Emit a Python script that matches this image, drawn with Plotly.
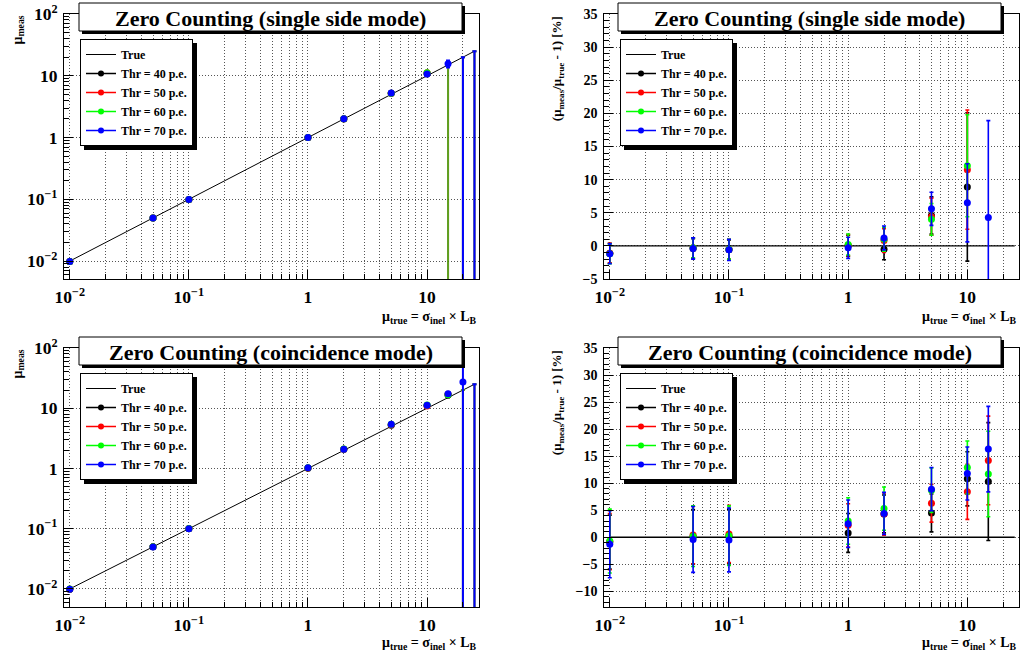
import plotly.graph_objects as go

# ---------------- data ----------------
x_true = [0.01, 25]                       # range of the "True" reference line
x_pts = [0.01, 0.05, 0.1, 1, 2, 5, 10, 15]
series_names = ["Thr = 40 p.e.", "Thr = 50 p.e.", "Thr = 60 p.e.", "Thr = 70 p.e."]
colors = ["#000000", "#ff0000", "#00ff00", "#0000ff"]

# single side mode: relative deviation (mu_meas/mu_true - 1) [%]
single_40 = [-1.1, -0.4, -0.6, 0.0, -0.5, 4.6, 8.9, None]
single_50 = [-1.1, -0.3, -0.5, 0.1, 0.8, 4.4, 11.5, None]
single_60 = [-1.2, -0.3, -0.5, 0.2, 1.0, 4.0, 12.1, None]
single_70 = [-1.2, -0.4, -0.6, -0.3, 1.2, 5.6, 6.5, 4.3]
single_err_40 = [1.5, 1.5, 1.5, 1.6, 1.6, 2.8, 11.2, None]
single_err_50 = [1.5, 1.5, 1.5, 1.6, 1.8, 2.8, 9.0, None]
single_err_60 = [1.5, 1.5, 1.5, 1.6, 1.8, 2.4, 7.7, None]
single_err_70 = [1.5, 1.6, 1.6, 1.6, 1.8, 2.5, 5.9, 14.6]
# points where the single side measurement saturates (no measurement)
single_sat_40 = [15, 20, 25]
single_sat_50 = [15, 20, 25]
single_sat_60 = [15, 20, 25]
single_sat_70 = [20, 25]

# coincidence mode: relative deviation [%]
coinc_40 = [-0.9, 0.1, 0.2, 0.8, 4.3, 4.5, 10.8, 10.3]
coinc_50 = [-0.8, 0.4, 0.6, 2.2, 4.3, 6.3, 8.4, 14.2]
coinc_60 = [-0.7, 0.2, 0.3, 3.0, 5.3, 8.7, 12.9, 11.7]
coinc_70 = [-1.3, -0.4, -0.5, 2.5, 4.4, 8.9, 11.8, 16.3]
coinc_err_40 = [5.0, 5.0, 5.0, 3.6, 3.5, 3.5, 5.0, 10.9]
coinc_err_50 = [5.2, 5.3, 5.3, 4.0, 3.9, 3.5, 5.1, 8.2]
coinc_err_60 = [5.9, 5.6, 5.5, 4.3, 4.0, 4.1, 4.9, 7.9]
coinc_err_70 = [6.2, 6.1, 5.9, 4.4, 3.9, 4.0, 4.9, 7.9]
coinc_sat_40 = [20, 25]
coinc_sat_50 = [20, 25]
coinc_sat_60 = [20, 25]
coinc_sat_70 = [25]
# extra Thr = 70 p.e. coincidence point at mu_true = 20 (only on the absolute plot)
coinc_extra_x = [20]
coinc_extra_pct = [36.5]
coinc_extra_err = [2000.0]

single_pct = [single_40, single_50, single_60, single_70]
single_err = [single_err_40, single_err_50, single_err_60, single_err_70]
single_sat = [single_sat_40, single_sat_50, single_sat_60, single_sat_70]
coinc_pct = [coinc_40, coinc_50, coinc_60, coinc_70]
coinc_err = [coinc_err_40, coinc_err_50, coinc_err_60, coinc_err_70]
coinc_sat = [coinc_sat_40, coinc_sat_50, coinc_sat_60, coinc_sat_70]

# ---------------- layout helpers ----------------
W, H = 1022, 657
SERIF = "Liberation Serif"


def px(xp):
    return xp / W


def py(yp):
    return 1 - yp / H


sat_colors = ["rgba(0,0,0,0.5)", "rgba(255,0,0,0.5)", "rgba(0,255,0,0.5)", "#0000ff"]

fig = go.Figure()


def to_abs(pcts, errs):
    ys, es = [], []
    for xv, p, e in zip(x_pts, pcts, errs):
        if p is None:
            ys.append(None)
            es.append(None)
        else:
            ys.append(xv * (1 + p / 100.0))
            es.append(xv * e / 100.0)
    return ys, es


def add_panel(ax, leg, pcts, errs, sats, absolute, extra=None):
    xa, ya = "x" + ax, "y" + ax
    # True line
    if absolute:
        fig.add_trace(go.Scatter(x=x_true, y=x_true, mode="lines", line=dict(color="black", width=1),
                                 xaxis=xa, yaxis=ya, showlegend=False, hoverinfo="skip"))
    else:
        fig.add_trace(go.Scatter(x=x_true, y=[0 for _ in x_true], mode="lines",
                                 line=dict(color="black", width=1.3),
                                 xaxis=xa, yaxis=ya, showlegend=False, hoverinfo="skip"))
    # saturated measurements (absolute plots only)
    if absolute:
        for i in range(4):
            s = sats[i]
            fig.add_trace(go.Scatter(
                x=s, y=s, mode="markers", marker=dict(opacity=0, color=colors[i]),
                error_y=dict(type="data", array=[0 for _ in s], arrayminus=[v * 1000 for v in s],
                             color=sat_colors[i], thickness=2, width=2),
                xaxis=xa, yaxis=ya, showlegend=False, hoverinfo="skip"))
    # measured points
    for i in range(4):
        if absolute:
            ys, es = to_abs(pcts[i], errs[i])
        else:
            ys, es = pcts[i], errs[i]
        fig.add_trace(go.Scatter(
            x=x_pts, y=ys, mode="markers", marker=dict(color=colors[i], size=7),
            error_y=dict(type="data", array=es, color=colors[i], thickness=1.6, width=2),
            xaxis=xa, yaxis=ya, showlegend=False, name=series_names[i]))
    if absolute and extra is not None:
        ex, ep, ee = extra
        ey = [xv * (1 + p / 100.0) for xv, p in zip(ex, ep)]
        eerr = [xv * e / 100.0 for xv, e in zip(ex, ee)]
        fig.add_trace(go.Scatter(
            x=ex, y=ey, mode="markers", marker=dict(color=colors[3], size=7),
            error_y=dict(type="data", array=eerr, color=colors[3], thickness=2, width=2),
            xaxis=xa, yaxis=ya, showlegend=False, name=series_names[3]))
    # legend entries
    fig.add_trace(go.Scatter(x=[None], y=[None], mode="lines", line=dict(color="black", width=1),
                             name="True", legend=leg, xaxis=xa, yaxis=ya))
    for i in range(4):
        fig.add_trace(go.Scatter(x=[None], y=[None], mode="lines+markers",
                                 line=dict(color=colors[i], width=1.5),
                                 marker=dict(color=colors[i], size=6),
                                 name=series_names[i], legend=leg, xaxis=xa, yaxis=ya))


add_panel("", "legend", single_pct, single_err, single_sat, True)
add_panel("2", "legend2", single_pct, single_err, single_sat, False)
add_panel("3", "legend3", coinc_pct, coinc_err, coinc_sat, True,
          extra=(coinc_extra_x, coinc_extra_pct, coinc_extra_err))
add_panel("4", "legend4", coinc_pct, coinc_err, coinc_sat, False)

tickfont = dict(family=SERIF, size=14, color="black", weight="bold")
GRIDC = "#555555"
grid = dict(showgrid=True, gridcolor=GRIDC, griddash="1px,2px", gridwidth=1)

xcommon = dict(type="log", range=[-2.046, 1.436], dtick=1, exponentformat="power",
               showline=True, linecolor="black", linewidth=1, mirror=True,
               ticks="inside", ticklen=9, tickcolor="black", tickfont=tickfont,
               zeroline=False, ticklabelstandoff=3, automargin=False,
               minor=dict(dtick="D1", ticks="inside", ticklen=5, tickcolor="black",
                          showgrid=True, gridcolor=GRIDC, griddash="1px,2px", gridwidth=1),
               **grid)
ylog = dict(type="log", dtick=1, exponentformat="power",
            showline=True, linecolor="black", linewidth=1, mirror=True,
            ticks="inside", ticklen=9, tickcolor="black", tickfont=tickfont, zeroline=False,
            ticklabelstandoff=3, automargin=False,
            minor=dict(dtick="D1", ticks="inside", ticklen=5, tickcolor="black", showgrid=False),
            **grid)
ylin = dict(dtick=5, tick0=0, showline=True, linecolor="black", linewidth=1, mirror=True,
            ticks="inside", ticklen=9, tickcolor="black", tickfont=tickfont, zeroline=False,
            ticklabelstandoff=3, automargin=False,
            minor=dict(dtick=1, ticks="inside", ticklen=5, tickcolor="black", showgrid=False),
            **grid)

left_dom = [px(64.3), px(479)]
right_dom = [px(604.3), px(1019.3)]
top_dom = [py(279), py(14)]
bot_dom = [py(607), py(348)]

legend_common = dict(bgcolor="white", bordercolor="black", borderwidth=1,
                     font=dict(family=SERIF, size=12, color="black", weight="bold"),
                     xanchor="left", yanchor="top", tracegroupgap=0, itemwidth=30)

fig.update_layout(
    template="none",
    width=W, height=H, margin=dict(l=0, r=0, t=0, b=0, autoexpand=False),
    paper_bgcolor="white", plot_bgcolor="white",
    xaxis=dict(domain=left_dom, anchor="y", **xcommon),
    yaxis=dict(domain=top_dom, anchor="x", range=[-2.29, 2.0], **ylog),
    xaxis2=dict(domain=right_dom, anchor="y2", **xcommon),
    yaxis2=dict(domain=top_dom, anchor="x2", range=[-5, 35], **ylin),
    xaxis3=dict(domain=left_dom, anchor="y3", **xcommon),
    yaxis3=dict(domain=bot_dom, anchor="x3", range=[-2.3, 2.0], **ylog),
    xaxis4=dict(domain=right_dom, anchor="y4", **xcommon),
    yaxis4=dict(domain=bot_dom, anchor="x4", range=[-12.9, 35], **ylin),
    legend=dict(x=px(80), y=py(39), **legend_common),
    legend2=dict(x=px(620), y=py(39), **legend_common),
    legend3=dict(x=px(80), y=py(373), **legend_common),
    legend4=dict(x=px(620), y=py(373), **legend_common),
    showlegend=True,
)

shapes = []
annotations = []

# title boxes
titles = [("Zero Counting (single side mode)", 79, 462, 3, 31),
          ("Zero Counting (single side mode)", 618, 1001, 3, 31),
          ("Zero Counting (coincidence mode)", 79, 462, 337, 365),
          ("Zero Counting (coincidence mode)", 618, 1001, 337, 365)]
for text, x0, x1, y0, y1 in titles:
    shapes.append(dict(type="rect", xref="paper", yref="paper", layer="above",
                       x0=px(x0 + 3), x1=px(x1 + 3), y0=py(y1 + 3), y1=py(y0 + 3),
                       fillcolor="black", line=dict(width=0)))
    shapes.append(dict(type="rect", xref="paper", yref="paper", layer="above",
                       x0=px(x0), x1=px(x1), y0=py(y1), y1=py(y0),
                       fillcolor="white", line=dict(color="black", width=1)))
    annotations.append(dict(text=text, xref="paper", yref="paper", x=px((x0 + x1) / 2),
                            y=py((y0 + y1) / 2 + 1), xanchor="center", yanchor="middle",
                            showarrow=False,
                            font=dict(family=SERIF, size=22, color="black", weight="bold")))

# legend shadows
LW, LH = 113, 107
for lx, ly in [(80, 39), (620, 39), (80, 373), (620, 373)]:
    shapes.append(dict(type="rect", xref="paper", yref="paper", layer="above",
                       x0=px(lx + 4), x1=px(lx + LW + 4), y0=py(ly + LH + 4), y1=py(ly + 4),
                       fillcolor="black", line=dict(width=0)))

axfont = dict(family=SERIF, size=14, color="black", weight="bold")
yfont = dict(family=SERIF, size=13, color="black", weight="bold")
for ytop in (14, 348):
    annotations.append(dict(text="μ<sub>meas</sub>", xref="paper", yref="paper",
                            x=px(18), y=py(ytop), xanchor="center", yanchor="top",
                            textangle=-90, showarrow=False, font=axfont))
    annotations.append(dict(text="(μ<sub>meas</sub>/μ<sub>true</sub> - 1) [%]", xref="paper",
                            yref="paper", x=px(557.7), y=py(ytop), xanchor="center",
                            yanchor="top", textangle=-90, showarrow=False, font=yfont))
for xr, yc in [(479, 317), (1019.3, 317), (479, 643), (1019.3, 643)]:
    annotations.append(dict(text="μ<sub>true</sub> = σ<sub>inel</sub> × L<sub>B</sub>",
                            xref="paper", yref="paper", x=px(xr), y=py(yc),
                            xanchor="right", yanchor="middle", showarrow=False, font=axfont))

fig.update_layout(shapes=shapes, annotations=annotations)

fig.write_html("out.html", config={"displayModeBar": False},
               post_script="document.body.style.margin='0';")
